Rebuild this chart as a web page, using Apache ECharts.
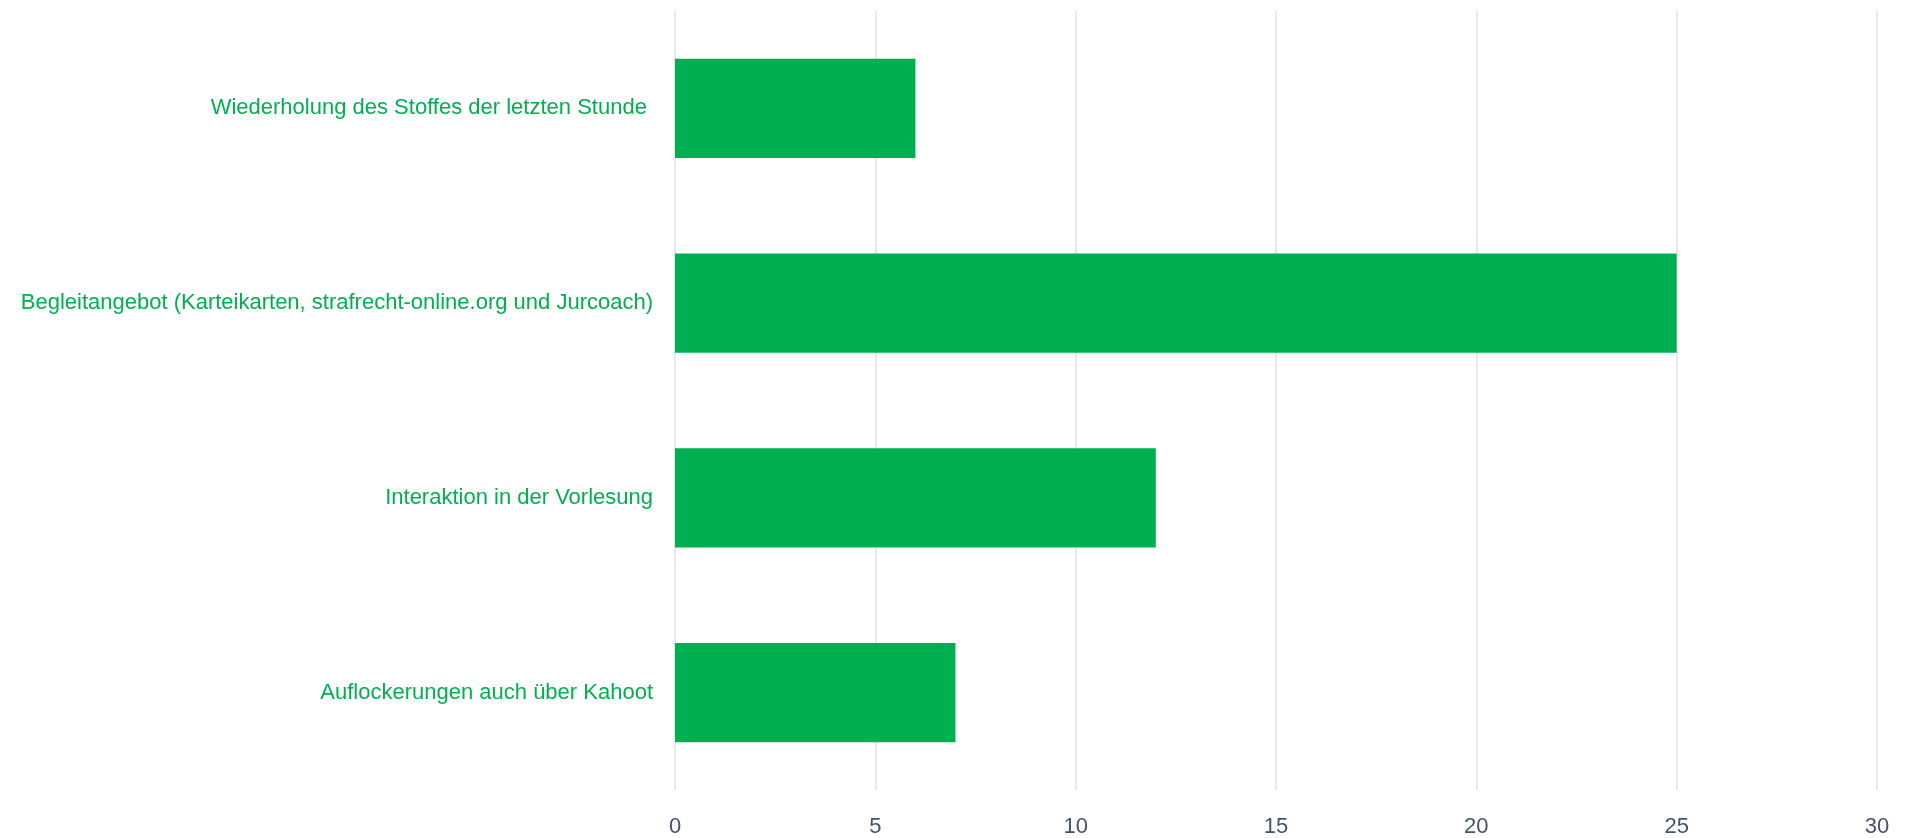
<!DOCTYPE html>
<html><head><meta charset="utf-8">
<script src="https://cdn.jsdelivr.net/npm/echarts@6/dist/echarts.min.js"></script>
<style>html,body{margin:0;padding:0;background:#fff}#c{width:1908px;height:838px}</style>
</head><body><div id="c"></div>
<script>
const categories = [
  "Wiederholung des Stoffes der letzten Stunde ",
  "Begleitangebot (Karteikarten, strafrecht-online.org und Jurcoach)",
  "Interaktion in der Vorlesung",
  "Auflockerungen auch über Kahoot"
];
const values = [6, 25, 12, 7];
const xTicks = [0, 5, 10, 15, 20, 25, 30];

const chart = echarts.init(document.getElementById('c'));
chart.setOption({
  animation: false,
  grid: { left: 675, right: 31, top: 11, bottom: 47, containLabel: false },
  xAxis: {
    type: 'value', min: 0, max: 30, interval: 5,
    axisLine: { show: false }, axisTick: { show: false },
    splitLine: { lineStyle: { color: '#dde2e8', width: 1.5 } },
    axisLabel: { color: '#44546a', fontSize: 22, fontFamily: 'Liberation Sans', margin: 26 }
  },
  yAxis: {
    type: 'category', inverse: true, data: categories,
    axisLine: { show: false }, axisTick: { show: false },
    axisLabel: { color: '#00b050', fontSize: 22, fontFamily: 'Liberation Sans', margin: 22 }
  },
  series: [{
    type: 'bar', data: values, barCategoryGap: '49%',
    itemStyle: { color: '#00b050' }
  }]
});
</script></body></html>
